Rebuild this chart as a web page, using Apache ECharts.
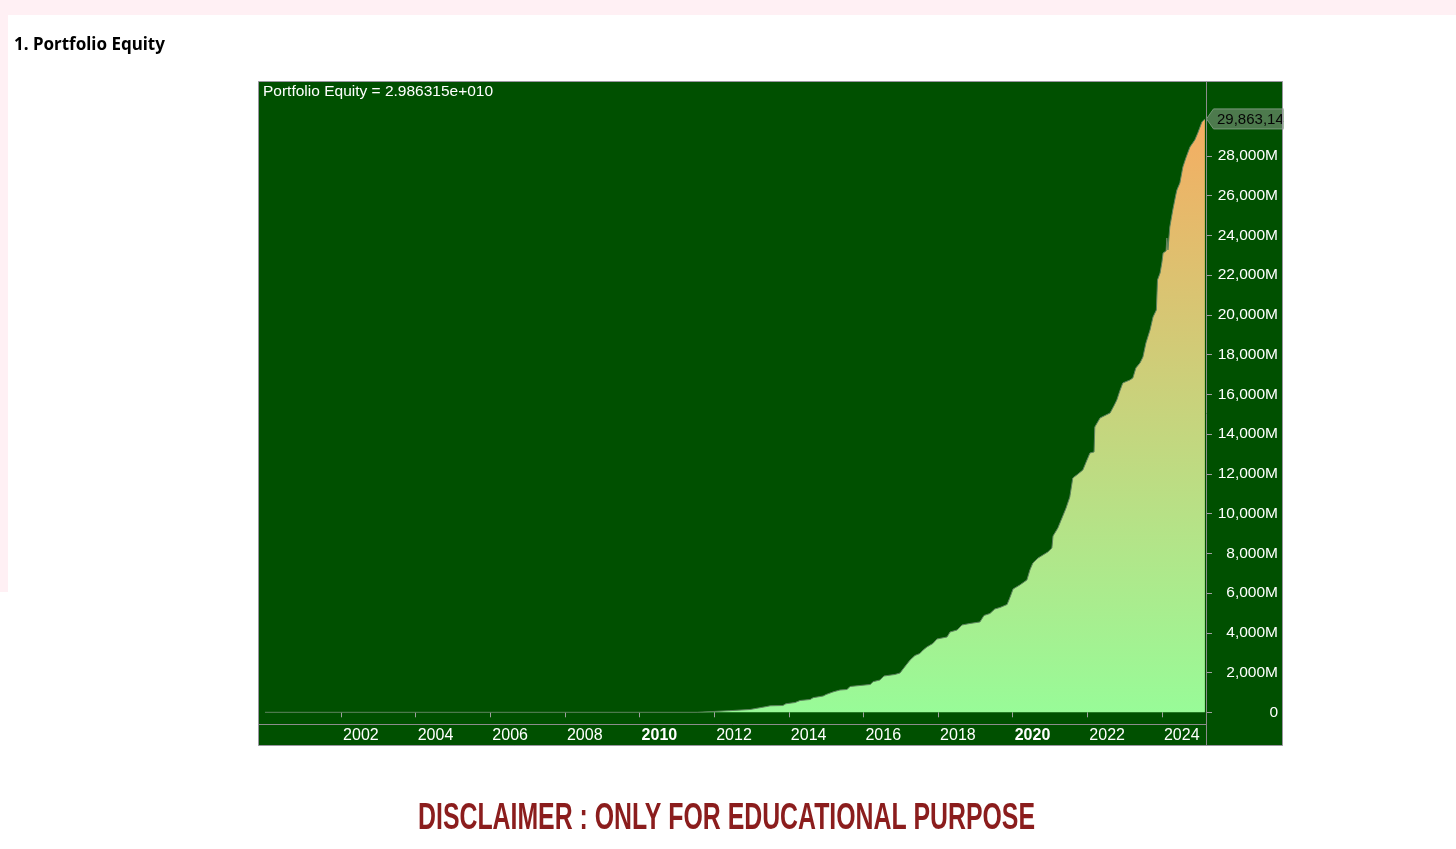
<!DOCTYPE html>
<html><head><meta charset="utf-8">
<script src="https://cdn.jsdelivr.net/npm/echarts@6/dist/echarts.min.js"></script>
<style>html,body{margin:0;padding:0;background:#fff}#c{width:1456px;height:849px}</style>
</head><body><div id="c"></div>
<script>
// ---- data ----
const years = [1999.96, 2011.54, 2011.57, 2012.40, 2012.45, 2012.96, 2013.01, 2013.41, 2013.50, 2013.84,
  2013.92, 2014.17, 2014.30, 2014.57, 2014.65, 2014.92, 2015.00, 2015.18, 2015.37, 2015.56,
  2015.64, 2015.91, 2016.18, 2016.26, 2016.44, 2016.55, 2016.84, 2016.98, 2017.06, 2017.25,
  2017.38, 2017.51, 2017.60, 2017.70, 2017.86, 2017.97, 2018.24, 2018.32, 2018.51, 2018.64,
  2018.85, 2019.12, 2019.23, 2019.39, 2019.52, 2019.66, 2019.85, 2019.93, 2020.01, 2020.19,
  2020.38, 2020.46, 2020.54, 2020.68, 2020.81, 2020.94, 2021.05, 2021.08, 2021.21, 2021.32,
  2021.43, 2021.53, 2021.61, 2021.75, 2021.88, 2021.99, 2022.07, 2022.18, 2022.20, 2022.34,
  2022.50, 2022.61, 2022.71, 2022.79, 2022.87, 2022.95, 2023.14, 2023.22, 2023.30, 2023.41,
  2023.49, 2023.57, 2023.68, 2023.76, 2023.85, 2023.88, 2023.95, 2024.00, 2024.03, 2024.11,
  2024.13, 2024.16, 2024.21, 2024.29, 2024.37, 2024.40, 2024.48, 2024.56, 2024.64, 2024.75,
  2024.88, 2024.96, 2025.07, 2025.15];
const equityM = [0, 0, 70, 81, 126, 141, 232, 292, 327, 342,
  428, 493, 594, 644, 735, 820, 896, 1022, 1122, 1148,
  1299, 1349, 1399, 1540, 1626, 1827, 1902, 1978, 2179, 2632,
  2859, 2959, 3136, 3287, 3463, 3689, 3790, 4041, 4142, 4394,
  4469, 4545, 4872, 4973, 5199, 5275, 5426, 5803, 6206, 6407,
  6659, 7162, 7514, 7766, 7917, 8068, 8269, 8873, 9276, 9779,
  10282, 10836, 11792, 11993, 12195, 12698, 13051, 13101, 14359, 14812,
  14963, 15064, 15416, 15718, 16171, 16574, 16725, 16825, 17329, 17580,
  17882, 18587, 19241, 19895, 20248, 21758, 22110, 22664, 23116, 23217,
  23871, 23268, 24425, 25280, 26035, 26287, 26640, 27445, 27898, 28452,
  28804, 29156, 29710, 29863.149];
const xTickYears = [2002, 2004, 2006, 2008, 2010, 2012, 2014, 2016, 2018, 2020, 2022, 2024];
const boldYears = [2010, 2020];
const yTickValuesM = [0, 2000, 4000, 6000, 8000, 10000, 12000, 14000, 16000, 18000, 20000, 22000, 24000, 26000, 28000];
const pageTitle = '1. Portfolio Equity';
const seriesName = 'Portfolio Equity';
const disclaimer = 'DISCLAIMER : ONLY FOR EDUCATIONAL PURPOSE';

// ---- chart ----
const FONT = "'Liberation Sans', Arial, sans-serif";
const chart = echarts.init(document.getElementById('c'), null, {renderer: 'canvas'});
const seriesData = years.map((y, i) => [y, equityM[i]]);
const lastM = equityM[equityM.length - 1];
const expText = (lastM * 1e6).toExponential(6).replace('e+', 'e+0');
const fullText = Math.round(lastM * 1e6).toLocaleString('en-US');

const option = {
  backgroundColor: '#ffffff',
  animation: false,
  grid: {left: 259, right: 250, top: 82, bottom: 124.7, containLabel: false},
  xAxis: {
    type: 'value', min: 1999.80, max: 2025.18,
    axisLine: {show: false}, splitLine: {show: false},
    axisTick: {show: true, customValues: xTickYears, length: 5, lineStyle: {color: '#a0a0a0'}},
    axisLabel: {
      customValues: xTickYears, align: 'left', margin: 3, padding: [0, 0, 0, 2],
      color: '#ffffff', fontSize: 16, fontFamily: FONT,
      formatter: v => boldYears.includes(v) ? '{b|' + v + '}' : String(v),
      rich: {b: {fontWeight: 'bold', color: '#ffffff', fontSize: 16, fontFamily: FONT}}
    }
  },
  yAxis: {
    type: 'value', position: 'right', min: -604, max: 31721,
    axisLine: {show: false}, splitLine: {show: false},
    axisTick: {show: true, customValues: yTickValuesM, length: 6, lineStyle: {color: '#a0a0a0'}},
    axisLabel: {
      customValues: yTickValuesM, align: 'right', margin: 72,
      color: '#ffffff', fontSize: 15.5, fontFamily: FONT,
      formatter: v => v === 0 ? '0' : v.toLocaleString('en-US') + 'M'
    }
  },
  series: [{
    name: seriesName, type: 'line', data: seriesData, symbol: 'none', showSymbol: false,
    lineStyle: {color: '#5f845f', width: 1},
    areaStyle: {
      origin: 0, opacity: 1,
      color: new echarts.graphic.LinearGradient(0, 0, 0, 1, [
        {offset: 0, color: '#f5ad62'}, {offset: 1, color: '#98fb98'}
      ])
    },
    z: 2
  }]
};
chart.setOption(option);

const p = chart.convertToPixel({gridIndex: 0}, [years[years.length - 1], lastM]);
const py = p[1];
const axisX = 1206.5;

chart.setOption({
  graphic: [
    {type: 'rect', z: -20, shape: {x: 0, y: 0, width: 1456, height: 15}, style: {fill: '#fff0f4'}},
    {type: 'rect', z: -20, shape: {x: 0, y: 15, width: 8, height: 577}, style: {fill: '#fff0f4'}},
    {type: 'rect', z: -10, shape: {x: 258.5, y: 81.5, width: 1024, height: 664}, style: {fill: '#005000'}},
    {type: 'text', z: 10, x: 14, y: 45, style: {text: pageTitle, fill: '#000', font: "bold 17px 'Noto Sans', sans-serif", textVerticalAlign: 'middle'}},
    {type: 'text', z: 10, x: 263, y: 92, style: {text: seriesName + ' = ' + expText, fill: '#ffffff', font: '15.5px ' + FONT, textVerticalAlign: 'middle'}},
    {type: 'line', z: 10, shape: {x1: axisX, y1: 81, x2: axisX, y2: 746}, style: {stroke: '#8c8c8c', lineWidth: 1}},
    {type: 'line', z: 10, shape: {x1: 258, y1: 724.5, x2: axisX, y2: 724.5}, style: {stroke: '#8c8c8c', lineWidth: 1}},
    {type: 'polygon', z: 15, shape: {points: [[axisX, py], [axisX + 7, py - 10], [1295, py - 10], [1295, py + 10], [axisX + 7, py + 10]]},
      style: {fill: '#4d7a4d', stroke: '#78987a', lineWidth: 1}},
    {type: 'text', z: 16, x: 1217, y: py + 1, style: {text: fullText, fill: '#050505', font: '15px ' + FONT, textVerticalAlign: 'middle'}},
    {type: 'rect', z: 17, shape: {x: 1283.5, y: 70, width: 40, height: 80}, style: {fill: '#ffffff'}},
    {type: 'rect', z: 20, shape: {x: 258.5, y: 81.5, width: 1024, height: 664}, style: {fill: 'none', stroke: '#9a96a0', lineWidth: 1}},
    {type: 'text', z: 10, x: 726.5, y: 819, scaleX: 0.69, scaleY: 1,
      style: {text: disclaimer, fill: '#8b1d1d', font: "bold 36px " + FONT, textAlign: 'center', textVerticalAlign: 'middle'}}
  ]
});
</script>
</body></html>
